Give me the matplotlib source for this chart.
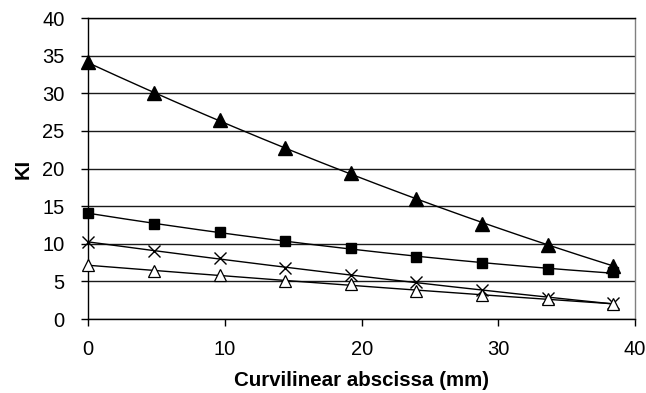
import numpy as np
import matplotlib
matplotlib.use("Agg")
import matplotlib.pyplot as plt

plt.rcParams['font.family'] = ['Liberation Sans', 'DejaVu Sans']

x_mm = [0, 4.8, 9.6, 14.4, 19.2, 24.0, 28.8, 33.6, 38.4]
ki_filled_tri = [34.1, 30.0, 26.4, 22.7, 19.4, 16.0, 12.7, 9.9, 7.1]
ki_square = [14.05, 12.65, 11.6, 10.4, 9.4, 8.3, 7.4, 6.7, 6.2]
ki_cross = [10.25, 9.05, 8.1, 6.85, 5.85, 4.9, 3.85, 2.8, 2.1]
ki_open_tri = [7.2, 6.4, 5.8, 5.1, 4.6, 3.8, 3.2, 2.7, 2.0]

xticks = [0, 10, 20, 30, 40]
yticks = [0, 5, 10, 15, 20, 25, 30, 35, 40]

fig = plt.figure(figsize=(6.46, 3.93), dpi=100)
ax = fig.add_axes([0.1367, 0.188, 0.983 - 0.1367, 0.954 - 0.188])

for y in yticks:
    ax.axhline(y, color='#1a1a1a', lw=1.0, zorder=1)

xs = np.linspace(0, 38.4, 200)
series = [
    (ki_filled_tri, dict(marker='^', ms=9.5, mfc='black', mec='black')),
    (ki_square, dict(marker='s', ms=7.5, mfc='black', mec='black')),
    (ki_cross, dict(marker='x', ms=8.5, mfc='none', mec='black', mew=1.0)),
    (ki_open_tri, dict(marker='^', ms=8.5, mfc='white', mec='black', mew=0.9)),
]
for vals, st in series:
    c = np.polyfit(x_mm, vals, 2)
    ax.plot(xs, np.polyval(c, xs), color='black', lw=1.0, zorder=2)
    ax.plot(x_mm, vals, ls='none', zorder=3, clip_on=False, **st)

ax.set_xlim(0, 40)
ax.set_ylim(0, 40)
ax.set_xticks(xticks)
ax.set_yticks(yticks)
ax.tick_params(axis='both', labelsize=14.5, direction='out', length=5, width=1, color='black')
ax.tick_params(axis='x', pad=10)
ax.tick_params(axis='y', pad=12)

for s in ['left', 'bottom', 'top']:
    ax.spines[s].set_color('black')
    ax.spines[s].set_linewidth(1.0)
ax.spines['right'].set_color('#808080')
ax.spines['right'].set_linewidth(1.0)

ax.set_xlabel('Curvilinear abscissa (mm)', fontsize=14.8, fontweight='bold', labelpad=9)
ax.set_ylabel('KI', fontsize=14.5, fontweight='bold', labelpad=7)

fig.savefig('out.png', dpi=100)
